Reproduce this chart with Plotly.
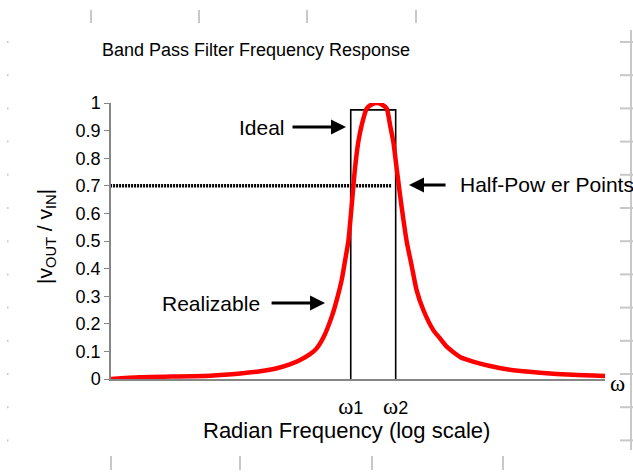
import plotly.graph_objects as go

# x = log10(w / w0)
freq = [-2.69, -2.40, -1.69, -1.38, -1.18, -1.01, -0.88, -0.78, -0.675, -0.61,
        -0.54, -0.455, -0.405, -0.354, -0.32, -0.287, -0.253, -0.22, -0.186, -0.152,
        -0.101, -0.05, 0.0, 0.05, 0.101, 0.135, 0.168, 0.202, 0.236, 0.269,
        0.304, 0.354, 0.405, 0.472, 0.573, 0.641, 0.709, 0.843, 0.975, 1.147,
        1.319, 1.653, 1.987, 2.311]
realizable = [0.0, 0.006, 0.012, 0.02, 0.028, 0.039, 0.053, 0.068, 0.09, 0.11,
              0.15, 0.226, 0.286, 0.36, 0.43, 0.50, 0.63, 0.763, 0.86, 0.92,
              0.98, 0.995, 1.0, 0.995, 0.98, 0.92, 0.86, 0.763, 0.667, 0.58,
              0.497, 0.41, 0.32, 0.25, 0.177, 0.147, 0.117, 0.08, 0.063, 0.047,
              0.035, 0.023, 0.015, 0.011]

w1 = -0.263
w2 = 0.192
ideal_x = [w1, w1, w2, w2]
ideal_y = [0, 0.975, 0.975, -0.018]

half_power_x = [-2.76, 0.155]
half_power_y = [0.7, 0.7]

y_ticks = [0, 0.1, 0.2, 0.3, 0.4, 0.5, 0.6, 0.7, 0.8, 0.9, 1]

FONT = "Liberation Sans, Arial, sans-serif"
SERIF = "<span style='font-family:Liberation Serif;font-size:23px'>ω</span>"
W, H = 633, 473
L, R, T, B = 111, 605, 103, 379  # plot area in pixels


def px(x):
    return (x - L) / (R - L)


def py(y):
    return (B - y) / (B - T)


fig = go.Figure()
fig.add_trace(go.Scatter(x=half_power_x, y=half_power_y, mode="lines",
                         line=dict(color="black", width=3.5, dash="2px,1px"),
                         cliponaxis=False))
fig.add_trace(go.Scatter(x=ideal_x, y=ideal_y, mode="lines",
                         line=dict(color="black", width=1.6),
                         cliponaxis=False))
fig.add_trace(go.Scatter(x=freq, y=realizable, mode="lines",
                         line=dict(color="#ff0000", width=4.5, shape="spline", smoothing=0.6),
                         cliponaxis=False))

notes = [
    dict(text="Ideal", x=-0.908, y=0.913, xanchor="right"),
    dict(text="Realizable", x=-1.161, y=0.275, xanchor="right"),
    dict(text="Half-Pow er Points", x=0.823, y=0.703, xanchor="left"),
]
for n in notes:
    fig.add_annotation(text=n["text"], x=n["x"], y=n["y"], xanchor=n["xanchor"],
                       yanchor="middle", showarrow=False,
                       font=dict(family=FONT, size=21, color="black"))

arrows = [(-0.311, 0.913, -55), (-0.523, 0.275, -55), (0.327, 0.703, 38)]
for x, y, ax in arrows:
    fig.add_annotation(text="", x=x, y=y, ax=ax, ay=0, showarrow=True,
                       arrowhead=2, arrowsize=1, arrowwidth=3, arrowcolor="black")

labels = [
    dict(text=SERIF, x=617, y=383, size=19, angle=0),
    dict(text="Radian Frequency (log scale)", x=346, y=430, size=22, angle=0),
    dict(text="|v<sub>OUT</sub> / v<sub>IN</sub>|", x=46, y=237, size=21, angle=-90),
]
for lb in labels:
    fig.add_annotation(text=lb["text"], xref="paper", yref="paper",
                       x=px(lb["x"]), y=py(lb["y"]), xanchor="center", yanchor="middle",
                       textangle=lb["angle"], showarrow=False,
                       font=dict(family=FONT, size=lb["size"], color="black"))

# faint worksheet cell marks around the chart
grey = dict(color="#c8c8c8", width=2)
marks = []
for x in [91, 199, 307, 416]:
    marks.append((x, 10, x, 23))
for x in [111, 240, 372, 503]:
    marks.append((x, 456, x, 470))
for k in range(13):
    y = 42 + 33.2 * k
    marks.append((620, y, 633, y))
    marks.append((7, y, 8.5, y))
marks.append((631, 30, 631, 450))
for x0, y0, x1, y1 in marks:
    fig.add_shape(type="line", xref="paper", yref="paper",
                  x0=px(x0), y0=py(y0), x1=px(x1), y1=py(y1), line=grey)

fig.update_layout(
    width=W, height=H,
    margin=dict(l=L, r=W - R, t=T, b=H - B),
    paper_bgcolor="white", plot_bgcolor="white",
    showlegend=False,
    font=dict(family=FONT, size=18, color="black"),
    title=dict(text="Band Pass Filter Frequency Response", xref="container",
               yref="container", x=256 / W, y=1 - 50 / H, xanchor="center",
               yanchor="middle", font=dict(family=FONT, size=18, color="black")),
)
fig.update_xaxes(range=[-2.69, 2.311], showgrid=False, zeroline=False,
                 showline=True, linecolor="#868686", linewidth=1.5,
                 tickvals=[w1, w2], ticktext=[SERIF + "1", SERIF + "2"],
                 ticks="outside", ticklen=12, tickcolor="rgba(0,0,0,0)",
                 tickfont=dict(family=FONT, size=18, color="black"))
fig.update_yaxes(range=[0, 1], showgrid=False, zeroline=False,
                 showline=True, linecolor="#868686", linewidth=1.5,
                 tickvals=y_ticks, ticktext=[f"{v:g}" for v in y_ticks],
                 ticks="outside", ticklen=5, tickcolor="#868686",
                 tickfont=dict(family=FONT, size=18, color="black"))

fig.write_html("out.html", config={"displayModeBar": False},
               post_script="document.body.style.margin = '0px';")
